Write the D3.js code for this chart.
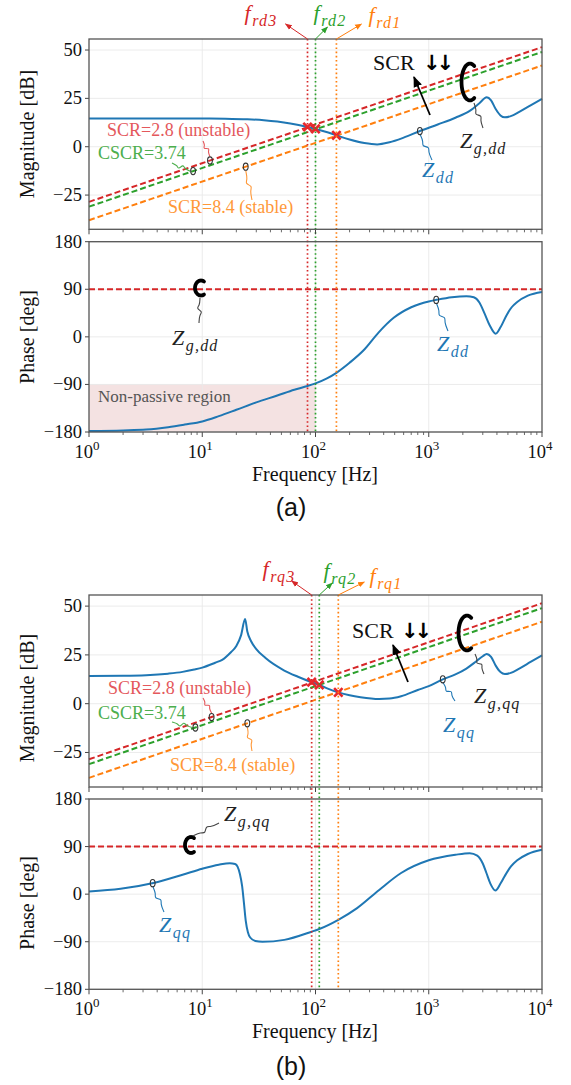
<!DOCTYPE html>
<html><head><meta charset="utf-8">
<script src="https://cdn.jsdelivr.net/npm/d3@7"></script>
<style>
html,body{margin:0;padding:0;background:#fff;}
svg{display:block;}
</style></head>
<body>
<svg id="chart" width="571" height="1085"></svg>
<script>
// ---------------- DATA ----------------
const xMajorTicks = [1, 10, 100, 1000, 10000];
const xTickExps = ["0", "1", "2", "3", "4"];
const magTicks = [50, 25, 0, -25];
const phaseTicks = [180, 90, 0, -90, -180];

// Z_dd (panel a)
const freqZddMag = [1, 5, 10, 16, 25, 35, 46, 60, 85, 100, 125, 153, 200, 270, 350, 450, 600, 835, 1200, 1720, 2300, 2800, 3250, 3550, 3900, 4300, 4700, 5300, 6300, 8000, 10000];
const zddMag =     [14.6, 14.6, 14.6, 14.5, 14.2, 13.7, 13.0, 12.0, 10.2, 9.2, 7.6, 5.9, 3.7, 1.9, 1.2, 2.3, 4.7, 8.1, 11.5, 15.0, 18.5, 22.5, 25.6, 24.0, 19.5, 16.2, 15.2, 15.8, 18.0, 21.5, 24.7];
const freqZddPh = [1, 2, 3.2, 5, 7, 10, 14, 20, 30, 46, 65, 85, 100, 125, 153, 200, 270, 360, 490, 700, 1000, 1170, 1600, 2150, 2500, 2800, 3100, 3450, 3900, 4300, 4840, 5400, 6040, 7500, 10000];
const zddPh =     [-178, -177, -175.5, -171, -166, -160, -150, -138, -124, -111, -100, -93, -88, -79, -68, -49, -24, 8, 36, 56, 67, 70, 75, 77, 75, 65, 45, 22, 6, 18, 40, 56, 66, 78, 85];

// Z_qq (panel b)
const freqZqqMag = [1, 2, 3.2, 5, 6.7, 8.5, 10, 13, 15, 18, 20, 22, 23.9, 25, 27, 30, 36, 53, 70, 92.5, 108, 130, 159, 200, 250, 365, 450, 570, 800, 1000, 1330, 1720, 2150, 2600, 3000, 3250, 3550, 3900, 4300, 4700, 5300, 6300, 8000, 10000];
const zqqMag =     [14.2, 14.3, 14.6, 15.4, 16.3, 17.5, 18.5, 21, 22.5, 26.5, 29.5, 35, 43.4, 37, 32, 28, 23.5, 17, 13.8, 11.0, 9.6, 7.6, 5.8, 4.3, 3.3, 2.4, 2.6, 3.8, 7.0, 9.0, 12.5, 15.0, 18.0, 21.5, 24.3, 25.5, 24.0, 19.5, 16.2, 15.2, 15.8, 18.0, 21.5, 24.7];
const freqZqqPh = [1, 1.9, 3.7, 6.7, 10, 14, 17.5, 19.5, 20.5, 21.5, 22.5, 23.3, 24.2, 25.3, 26.5, 29.4, 34, 53, 92.5, 108, 159, 233, 365, 570, 1000, 1720, 2300, 2680, 3000, 3230, 3500, 3880, 4300, 4680, 5300, 6040, 7500, 10000];
const zqqPh =     [5, 10, 21, 36.6, 48, 55.6, 58.5, 57, 52, 38, 15, -15, -50, -72, -82, -88.5, -90, -86.5, -71, -66, -48.6, -26.5, 8, 40, 64, 74.5, 77.5, 73, 58, 40, 20, 7, 20, 34, 52, 64, 76, 84];

// Grid impedance lines (straight in log-log): value at 1 Hz and 10 kHz
const gridFreq = [1, 10000];
const gridScr28 = [-28.5, 51.5];
const gridCscr374 = [-31, 49];
const gridScr84 = [-38, 42];
const gridPhase = 90;

// resonance frequencies (red, green, orange)
const resFreqA = [85, 100, 153];
const resFreqB = [92.5, 108, 159];
const resSubA = ["rd3", "rd2", "rd1"];
const resSubB = ["rq3", "rq2", "rq1"];

// annotation marker frequencies (red, green, orange line)
const lineMarkA = [11.7, 8.3, 24.2];
const lineMarkB = [12.1, 8.7, 25];
const nonPassive = [1, 100, -180, -90];

// ---------------- STYLE ----------------
const C = {blue:"#1f77b4", red:"#d62728", green:"#2ca02c", orange:"#ff7f0e",
  redT:"#e4585c", greenT:"#4cae4c", orangeT:"#ff9838"};
const lineColors = [C.red, C.green, C.orange];
const serif = "'Liberation Serif', 'Times New Roman', serif";

const svg = d3.select("#chart");
const x = d3.scaleLog().domain([1, 10000]).range([89, 542]);

const defs = svg.append("defs");
function mkArrow(id, color, size){
  defs.append("marker").attr("id", id).attr("viewBox","0 0 10 10").attr("refX",9).attr("refY",5)
    .attr("markerWidth",size).attr("markerHeight",size).attr("orient","auto-start-reverse")
    .attr("markerUnits","userSpaceOnUse")
    .append("path").attr("d","M0,1 L10,5 L0,9 Z").attr("fill",color);
}
mkArrow("arRed", C.red, 7); mkArrow("arGreen", C.green, 7); mkArrow("arOrange", C.orange, 7); mkArrow("arBlack", "#000", 11);
const arrowIds = ["arRed","arGreen","arOrange"];

function interpLog(fs, vs, f){
  const lf = Math.log10(f);
  for (let i=0;i<fs.length-1;i++){
    const a=Math.log10(fs[i]), b=Math.log10(fs[i+1]);
    if (lf>=a && lf<=b){ const t=(lf-a)/(b-a); return vs[i]+t*(vs[i+1]-vs[i]); }
  }
  return vs[vs.length-1];
}

function drawFrame(y, yTicks){
  const g = svg.append("g");
  const [y0, y1] = y.range();
  g.selectAll(null).data(xMajorTicks.slice(1,-1)).enter().append("line")
    .attr("x1", d=>x(d)).attr("x2", d=>x(d)).attr("y1", y1).attr("y2", y0)
    .attr("stroke","#e9e9e9").attr("stroke-width",0.9);
  g.selectAll(null).data(yTicks).enter().append("line")
    .attr("x1", x.range()[0]).attr("x2", x.range()[1]).attr("y1", d=>y(d)).attr("y2", d=>y(d))
    .attr("stroke","#e9e9e9").attr("stroke-width",0.9);
  return g;
}
function drawAxes(y, yTicks, showX){
  const g = svg.append("g");
  const [y0, y1] = y.range();
  const [xa, xb] = x.range();
  const minors = [];
  for (let e=0;e<4;e++) for (let m=2;m<10;m++) minors.push(m*Math.pow(10,e));
  g.selectAll(null).data(minors).enter().append("line")
    .attr("x1", d=>x(d)).attr("x2", d=>x(d)).attr("y1", y0).attr("y2", y0+3)
    .attr("stroke","#444").attr("stroke-width",0.8);
  g.selectAll(null).data(xMajorTicks).enter().append("line")
    .attr("x1", d=>x(d)).attr("x2", d=>x(d)).attr("y1", y0).attr("y2", y0+5)
    .attr("stroke","#444").attr("stroke-width",1);
  g.selectAll(null).data(yTicks).enter().append("line")
    .attr("x1", xa-4).attr("x2", xa).attr("y1", d=>y(d)).attr("y2", d=>y(d))
    .attr("stroke","#444").attr("stroke-width",1);
  g.selectAll(null).data(yTicks).enter().append("text")
    .attr("x", xa-7).attr("y", d=>y(d)+6).attr("text-anchor","end")
    .attr("font-family", serif).attr("font-size", 18.5).attr("fill","#111")
    .text(d => d<0 ? "\u2212"+Math.abs(d) : String(d));
  if (showX){
    const t = g.selectAll(null).data(xMajorTicks).enter().append("text")
      .attr("x", d=>x(d)-2).attr("y", y0+26).attr("text-anchor","middle")
      .attr("font-family", serif).attr("font-size", 18.5).attr("fill","#111");
    t.append("tspan").text("10");
    t.append("tspan").attr("dy",-8).attr("font-size",13).text((d,i)=>xTickExps[i]);
  }
  g.append("rect").attr("x", xa).attr("y", y1).attr("width", xb-xa).attr("height", y0-y1)
    .attr("fill","none").attr("stroke","#555").attr("stroke-width",1.3);
  return g;
}

function mathText(xp, yp, main, sub, color, size, anchor){
  const t = svg.append("text").attr("x", xp).attr("y", yp)
    .attr("font-family", serif).attr("font-style","italic").attr("font-size", size)
    .attr("fill", color).attr("text-anchor", anchor || "start");
  t.append("tspan").text(main);
  t.append("tspan").attr("font-size", Math.round(size*0.74)).attr("dy", size*0.25).attr("dx",1.5)
    .attr("letter-spacing", 1.2).text(sub);
  return t;
}
function plainText(xp, yp, s, color, size, anchor, family){
  return svg.append("text").attr("x", xp).attr("y", yp).attr("font-family", family || serif)
    .attr("font-size", size).attr("fill", color).attr("text-anchor", anchor || "start").text(s);
}
function squiggle(x1,y1,x2,y2,color,w){
  const dx=x2-x1, dy=y2-y1, L=Math.hypot(dx,dy), nx=-dy/L, ny=dx/L;
  const prof=[[0,0],[0.3,0],[0.42,3.5],[0.55,-3.5],[0.68,0],[1,0]];
  const pts=prof.map(([t,o])=>[x1+t*dx+o*nx, y1+t*dy+o*ny]);
  svg.append("path").attr("d", d3.line().curve(d3.curveBasis)(pts))
    .attr("fill","none").attr("stroke",color).attr("stroke-width",w||1.1);
}
function ovalMark(xp, yp){
  svg.append("ellipse").attr("cx",xp).attr("cy",yp).attr("rx",2.4).attr("ry",3.6)
    .attr("fill","none").attr("stroke","#333").attr("stroke-width",1.1);
}
function bigC(cx, cy, rx, ry, w){
  const arc = d3.range(0,41).map(i => {const a = (-60 - i*(240/40))*Math.PI/180; return [cx+rx*Math.cos(a), cy+ry*Math.sin(a)];});
  svg.append("path").attr("d", d3.line().curve(d3.curveBasis)(arc))
    .attr("fill","none").attr("stroke","#000").attr("stroke-width",w).attr("stroke-linecap","round");
}
function xMark(xp, yp){
  const s=4.2;
  svg.append("path").attr("d",`M${xp-s},${yp-s}L${xp+s},${yp+s}M${xp-s},${yp+s}L${xp+s},${yp-s}`)
    .attr("stroke","#e8262b").attr("stroke-width",2.6);
}

function magPanel(y, zf, zv, resF){
  drawFrame(y, magTicks);
  const line = d3.line().x(d=>x(d[0])).y(d=>y(d[1]));
  [gridScr28, gridCscr374, gridScr84].forEach((vals,i)=>{
    svg.append("path").attr("d", line(gridFreq.map((f,j)=>[f, vals[j]])))
      .attr("fill","none").attr("stroke", lineColors[i]).attr("stroke-width",2).attr("stroke-dasharray","6,3");
  });
  svg.append("path").attr("d", d3.line().x(d=>x(d[0])).y(d=>y(d[1])).curve(d3.curveMonotoneX)(zf.map((f,i)=>[f,zv[i]])))
    .attr("fill","none").attr("stroke", C.blue).attr("stroke-width",2);
  resF.forEach(f => xMark(x(f), y(interpLog(zf, zv, f))));
}

function phasePanel(y, zf, zv){
  drawFrame(y, phaseTicks);
  svg.append("line").attr("x1", x(1)).attr("x2", x(10000)).attr("y1", y(gridPhase)).attr("y2", y(gridPhase))
    .attr("stroke", C.red).attr("stroke-width",2).attr("stroke-dasharray","6,3");
  svg.append("path").attr("d", d3.line().x(d=>x(d[0])).y(d=>y(d[1])).curve(d3.curveMonotoneX)(zf.map((f,i)=>[f,zv[i]])))
    .attr("fill","none").attr("stroke", C.blue).attr("stroke-width",2);
}

function resLines(resF, yTop, yBot){
  resF.forEach((f,i)=>{
    svg.append("line").attr("x1",x(f)).attr("x2",x(f)).attr("y1",yTop).attr("y2",yBot)
      .attr("stroke", lineColors[i]).attr("stroke-width",1.7).attr("stroke-dasharray","1.6,2.6");
  });
}
function downArrows(xp, yp){
  plainText(xp, yp, "\u2193\u2193", "#000", 21, "start", "'DejaVu Sans', sans-serif")
    .attr("font-weight","bold").attr("letter-spacing",-4);
}

// ================= PANEL (a) =================
const yMagA = d3.scaleLinear().domain([-42.7, 55.7]).range([229.3, 39]);
const yPhA = d3.scaleLinear().domain([-180, 180]).range([432, 241.7]);

svg.append("rect").attr("x", x(nonPassive[0])).attr("y", yPhA(nonPassive[3]))
  .attr("width", x(nonPassive[1]) - x(nonPassive[0])).attr("height", yPhA(nonPassive[2]) - yPhA(nonPassive[3]))
  .attr("fill", "#f4e2e2");

magPanel(yMagA, freqZddMag, zddMag, resFreqA);
phasePanel(yPhA, freqZddPh, zddPh);
resLines(resFreqA, 39, 432);
drawAxes(yMagA, magTicks, false);
drawAxes(yPhA, phaseTicks, true);

const lblOffA = [[-22,-15,261,20],[12,-12,330,20],[25,-15,385,22]];
resFreqA.forEach((f,i)=>{
  const o=lblOffA[i];
  svg.append("line").attr("x1",x(f)).attr("y1",39).attr("x2",x(f)+o[0]).attr("y2",39+o[1])
    .attr("stroke",lineColors[i]).attr("stroke-width",1).attr("marker-end",`url(#${arrowIds[i]})`);
  mathText(o[2], o[3], "f", resSubA[i], lineColors[i], 22, "middle");
});
const gridVals = [gridScr28, gridCscr374, gridScr84];
const mkA = lineMarkA.map((f,i)=>[x(f), yMagA(interpLog(gridFreq, gridVals[i], f))]);
plainText(107, 136, "SCR=2.8 (unstable)", C.redT, 18);
plainText(98, 159, "CSCR=3.74", C.greenT, 18);
plainText(168, 213, "SCR=8.4 (stable)", C.orangeT, 18);
squiggle(203, 141, mkA[0][0], mkA[0][1]-4, C.redT);
squiggle(172, 163, mkA[1][0]-3, mkA[1][1], C.greenT);
squiggle(mkA[2][0], mkA[2][1]+4, 252, 200, C.orangeT);
mkA.forEach(p=>ovalMark(p[0], p[1]));
const zdA = [x(835), yMagA(interpLog(freqZddMag, zddMag, 835))];
squiggle(zdA[0], zdA[1]+3, 432, 160, C.blue);
ovalMark(zdA[0], zdA[1]);
mathText(422, 177, "Z", "dd", C.blue, 22);
svg.append("line").attr("x1",430).attr("y1",115).attr("x2",414).attr("y2",77)
  .attr("stroke","#000").attr("stroke-width",1.8).attr("marker-end","url(#arBlack)");
plainText(373, 70, "SCR", "#111", 22);
downArrows(423, 70);
bigC(470, 82, 8.5, 18.5, 3.8);
squiggle(474, 103, 483, 128, "#444");
mathText(460, 148, "Z", "g,dd", "#222", 22);
bigC(201, 288, 6, 7.5, 3.8);
squiggle(200, 298, 199, 323, "#444");
mathText(172, 345, "Z", "g,dd", "#222", 22);
const zpA = [x(1164), yPhA(interpLog(freqZddPh, zddPh, 1164))];
squiggle(zpA[0], zpA[1]+3, 448, 331, C.blue);
ovalMark(zpA[0], zpA[1]);
mathText(437, 351, "Z", "dd", C.blue, 22);
plainText(98, 402, "Non-passive region", "#555", 17);

function yTitle(cx, cy, s){
  svg.append("text").attr("transform",`translate(${cx},${cy}) rotate(-90)`).attr("text-anchor","middle")
    .attr("font-family", serif).attr("font-size",20).attr("fill","#111").text(s);
}
yTitle(34, 134, "Magnitude [dB]");
yTitle(34, 337, "Phase [deg]");
plainText(315, 481, "Frequency [Hz]", "#111", 20, "middle");
plainText(291, 516, "(a)", "#111", 25, "middle", "'Liberation Sans', Arial, sans-serif");

// ================= PANEL (b) =================
const yMagB = d3.scaleLinear().domain([-42.7, 55.7]).range([787, 595]);
const yPhB = d3.scaleLinear().domain([-180, 180]).range([989.3, 799]);

magPanel(yMagB, freqZqqMag, zqqMag, resFreqB);
phasePanel(yPhB, freqZqqPh, zqqPh);
resLines(resFreqB, 595, 989.3);
drawAxes(yMagB, magTicks, false);
drawAxes(yPhB, phaseTicks, true);

const lblOffB = [[-20,-14,279,576],[13,-12,340,578],[26,-13,386,583]];
resFreqB.forEach((f,i)=>{
  const o=lblOffB[i];
  svg.append("line").attr("x1",x(f)).attr("y1",595).attr("x2",x(f)+o[0]).attr("y2",595+o[1])
    .attr("stroke",lineColors[i]).attr("stroke-width",1).attr("marker-end",`url(#${arrowIds[i]})`);
  mathText(o[2], o[3], "f", resSubB[i], lineColors[i], 22, "middle");
});
const mkB = lineMarkB.map((f,i)=>[x(f), yMagB(interpLog(gridFreq, gridVals[i], f))]);
plainText(108, 694, "SCR=2.8 (unstable)", C.redT, 18);
plainText(98, 719, "CSCR=3.74", C.greenT, 18);
plainText(170, 771, "SCR=8.4 (stable)", C.orangeT, 18);
squiggle(203, 698, mkB[0][0], mkB[0][1]-4, C.redT);
squiggle(172, 722, mkB[1][0]-3, mkB[1][1], C.greenT);
squiggle(mkB[2][0], mkB[2][1]+4, 252, 751, C.orangeT);
mkB.forEach(p=>ovalMark(p[0], p[1]));
const zqB = [x(1330), yMagB(interpLog(freqZqqMag, zqqMag, 1330))];
squiggle(zqB[0], zqB[1]+3, 455, 701, C.blue);
ovalMark(zqB[0], zqB[1]);
mathText(443, 732, "Z", "qq", C.blue, 22);
svg.append("line").attr("x1",408).attr("y1",682).attr("x2",393).attr("y2",645)
  .attr("stroke","#000").attr("stroke-width",1.8).attr("marker-end","url(#arBlack)");
plainText(352, 638, "SCR", "#111", 22);
downArrows(401, 638);
bigC(467, 633, 8.5, 17.5, 3.8);
squiggle(475, 654, 484, 674, "#444");
mathText(474, 703, "Z", "g,qq", "#222", 22);
bigC(191, 845, 6, 8, 3.8);
squiggle(193, 836, 219, 823, "#444");
mathText(224, 821, "Z", "g,qq", "#222", 22);
const zpB = [x(3.65), yPhB(interpLog(freqZqqPh, zqqPh, 3.65))];
squiggle(zpB[0], zpB[1]+3, 164, 912, C.blue);
ovalMark(zpB[0], zpB[1]);
mathText(159, 932, "Z", "qq", C.blue, 22);

yTitle(34, 698, "Magnitude [dB]");
yTitle(34, 903, "Phase [deg]");
plainText(315, 1038, "Frequency [Hz]", "#111", 20, "middle");
plainText(291, 1075, "(b)", "#111", 25, "middle", "'Liberation Sans', Arial, sans-serif");
</script>
</body></html>
